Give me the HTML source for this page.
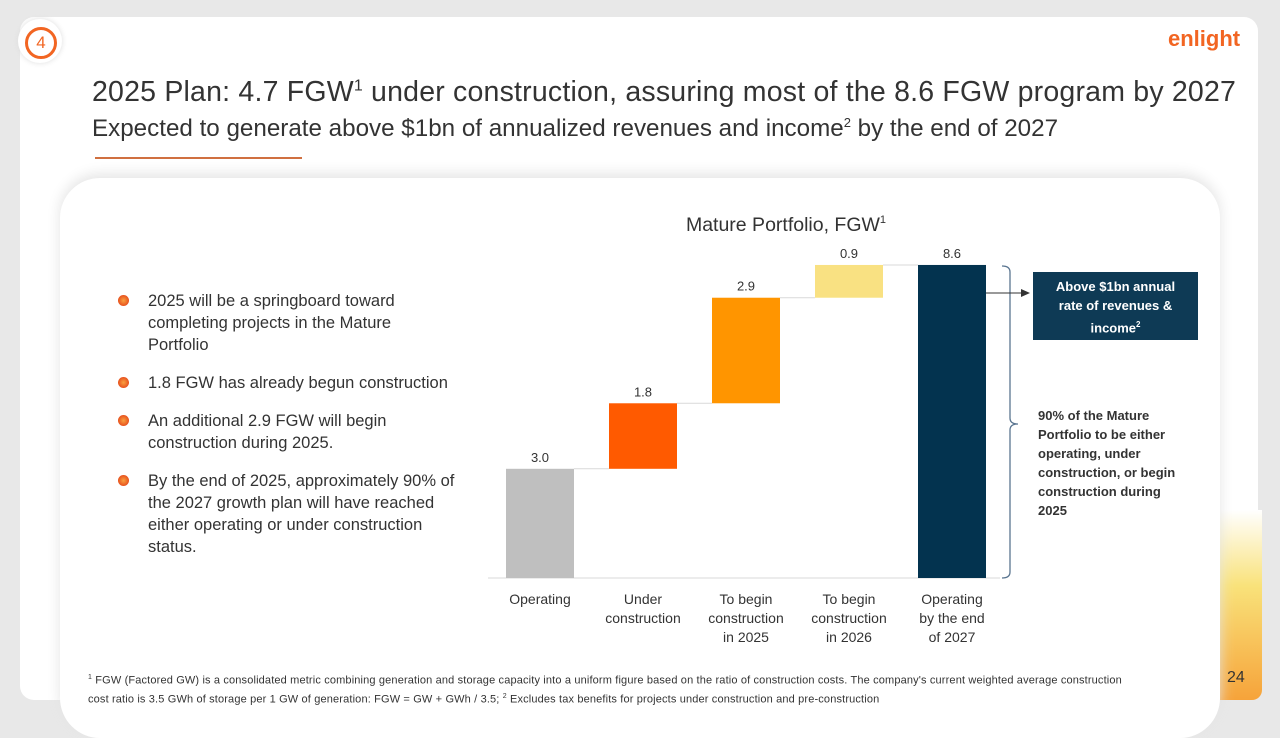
<!DOCTYPE html>
<html><head><meta charset="utf-8">
<style>
body{margin:0;width:1280px;height:720px;background:#e8e8e8;font-family:"Liberation Sans",sans-serif;overflow:hidden;position:relative}
.abs{position:absolute}
</style></head><body>
<div class="abs" style="left:20px;top:17px;width:1238px;height:683px;background:#fff;border-radius:14px"></div>
<div class="abs" style="left:1220px;top:510px;width:42px;height:190px;background:linear-gradient(#fff,#f9e27a 40%,#f6a33a);border-radius:0 0 10px 0"></div>
<div class="abs" style="left:18px;top:19px;width:44px;height:44px;border-radius:50%;background:#fff;box-shadow:0 0 6px #ddd"></div>
<div class="abs" style="left:25px;top:27px;width:26px;height:26px;border:3px solid #f26522;border-radius:50%;color:#f26522;font-size:17px;text-align:center;line-height:26px">4</div>
<div class="abs" style="left:1168px;top:26px;color:#f26522;font-weight:bold;font-size:22px">enlight</div>
<div class="abs" style="left:92px;top:76px;font-size:28.5px;color:#333;white-space:nowrap;letter-spacing:0.2px">2025 Plan: 4.7 FGW<sup style="font-size:16px">1</sup> under construction, assuring most of the 8.6 FGW program by 2027</div>
<div class="abs" style="left:92px;top:115px;font-size:24.2px;color:#333;white-space:nowrap">Expected to generate above $1bn of annualized revenues and income<sup style="font-size:13px">2</sup> by the end of 2027</div>
<div class="abs" style="left:95px;top:157px;width:207px;height:2px;background:#d07040"></div>
<div class="abs" style="left:60px;top:178px;width:1160px;height:560px;background:#fff;border-radius:40px;box-shadow:0 -4px 14px #e4e4e4"></div>
<div class="abs" style="left:118px;top:290px;width:350px;font-size:16.5px;color:#333;line-height:22px">
<div style="position:relative;padding-left:30px;margin-bottom:16px;width:290px"><span style="position:absolute;left:0;top:5px;width:11px;height:11px;border-radius:50%;background:radial-gradient(#f9a03f,#e03010)"></span>2025 will be a springboard toward completing projects in the Mature Portfolio</div>
<div style="position:relative;padding-left:30px;margin-bottom:16px;white-space:nowrap"><span style="position:absolute;left:0;top:5px;width:11px;height:11px;border-radius:50%;background:radial-gradient(#f9a03f,#e03010)"></span>1.8 FGW has already begun construction</div>
<div style="position:relative;padding-left:30px;margin-bottom:16px;width:290px"><span style="position:absolute;left:0;top:5px;width:11px;height:11px;border-radius:50%;background:radial-gradient(#f9a03f,#e03010)"></span>An additional 2.9 FGW will begin construction during 2025.</div>
<div style="position:relative;padding-left:30px;width:320px"><span style="position:absolute;left:0;top:5px;width:11px;height:11px;border-radius:50%;background:radial-gradient(#f9a03f,#e03010)"></span>By the end of 2025, approximately 90% of the 2027 growth plan will have reached either operating or under construction status.</div>
</div>
<svg class="abs" style="left:0;top:0" width="1280" height="720">
<text x="786" y="231" text-anchor="middle" font-size="19.5" fill="#333">Mature Portfolio, FGW<tspan font-size="11" dy="-8">1</tspan></text>
<g id="g"></g>
<path d="M1002 266 q8 0 8 6 V418 q0 6 8 6 q-8 0 -8 6 V572 q0 6 -8 6" fill="none" stroke="#5a7590" stroke-width="1.3"/>
<line x1="986" y1="293" x2="1022" y2="293" stroke="#333"/>
<polygon points="1030,293 1021,289 1021,297" fill="#333"/>
</svg>
<div class="abs" style="left:1033px;top:272px;width:165px;height:68px;background:#0e3a55;color:#fff;font-weight:bold;font-size:13px;text-align:center;line-height:19px;padding:5px 14px 0;box-sizing:border-box">Above $1bn annual rate of revenues &amp; income<sup style="font-size:8px">2</sup></div>
<div class="abs" style="left:1038px;top:406px;width:150px;font-size:13px;font-weight:bold;color:#333;line-height:19px">90% of the Mature Portfolio to be either operating, under construction, or begin construction during 2025</div>
<div class="abs" style="left:88px;top:670px;width:1125px;font-size:11px;color:#333;line-height:16px;letter-spacing:0.15px"><sup style="font-size:7px">1</sup> FGW (Factored GW) is a consolidated metric combining generation and storage capacity into a uniform figure based on the ratio of construction costs. The company's current weighted average construction<br>cost ratio is 3.5 GWh of storage per 1 GW of generation: FGW = GW + GWh / 3.5; <sup style="font-size:7px">2</sup> Excludes tax benefits for projects under construction and pre-construction</div>
<div class="abs" style="left:1227px;top:669px;font-size:16px;color:#333">24</div>
<script>
const categories=[["Operating"],["Under","construction"],["To begin","construction","in 2025"],["To begin","construction","in 2026"],["Operating","by the end","of 2027"]];
const values=[3.0,1.8,2.9,0.9,8.6];
const isTotal=[false,false,false,false,true];
const colors=["#bfbfbf","#ff5a00","#ff9500","#f9e182","#03334f"];
const labels=["3.0","1.8","2.9","0.9","8.6"];
const base=578,scale=36.4,x0=506,step=103,bw=68;
const y=v=>base-v*scale, x=i=>x0+i*step;
const ns="http://www.w3.org/2000/svg",g=document.getElementById('g');
function mk(t,a){const e=document.createElementNS(ns,t);for(const k in a)e.setAttribute(k,a[k]);g.appendChild(e);return e;}
const ax=mk('line',{x1:488,x2:1000,y1:base,y2:base,stroke:'#d9d9d9'});


let cum=0;
values.forEach((v,i)=>{
 const lo=isTotal[i]?0:cum, hi=isTotal[i]?v:cum+v;
 const r=mk('rect',{x:x(i),y:y(hi),width:bw,height:y(lo)-y(hi),fill:colors[i]});
 
 
 const t=mk('text',{x:x(i)+bw/2,y:y(hi)-7,'text-anchor':'middle','font-size':13,fill:'#333'});t.textContent=labels[i];
 
 
 if(i<values.length-1){const c=mk('line',{x1:x(i)+bw,x2:x(i+1),y1:y(hi),y2:y(hi),stroke:'#d9d9d9'});
 
 }
 categories[i].forEach((s,j)=>{const l=mk('text',{x:x(i)+bw/2,y:604+j*19,'text-anchor':'middle','font-size':14,fill:'#333'});l.textContent=s;
 
 });
 cum=hi;
});
</script>
</body></html>
